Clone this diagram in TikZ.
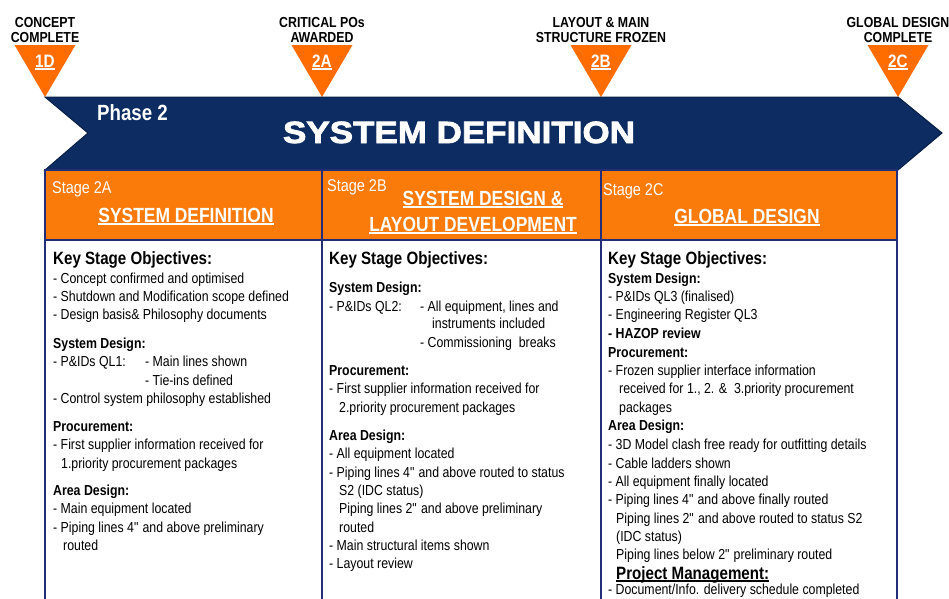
\documentclass[tikz,border=0pt]{standalone}
\usepackage{fontspec}
\setmainfont{Liberation Sans}[FakeStretch=0.85]
\newfontfamily\bannerfont{Liberation Sans}[FakeStretch=1.14,FakeBold=2.5]
\usetikzlibrary{positioning}
\definecolor{navy}{RGB}{12,44,98}
\definecolor{boxline}{RGB}{35,45,120}
\definecolor{stageorange}{RGB}{250,122,10}
\definecolor{mileorange}{RGB}{255,108,0}
\newcommand\ulinetext[1]{\setbox0\hbox{#1}\rlap{\copy0}\rule[-3pt]{\wd0}{1.6pt}}
\newcommand\tabto[2]{\makebox[#1][l]{#2}}

\begin{document}
\begin{tikzpicture}
[x=1pt,y=-1pt,
 body/.style={anchor=base west,inner sep=0pt,text=black,font={\fontsize{14.5}{18}\selectfont}},
 keyhead/.style={anchor=base west,inner sep=0pt,text=black,font={\fontsize{17.8}{20}\selectfont\bfseries}},
 mlabel/.style={anchor=base,inner sep=0pt,text=black,font={\fontsize{14.5}{16}\selectfont\bfseries}},
 mnum/.style={anchor=base,inner sep=0pt,text=white,font={\fontsize{18}{20}\selectfont\bfseries}},
 stagetag/.style={anchor=base west,inner sep=0pt,text=white,font={\fontsize{17}{20}\selectfont}},
 stagetitle/.style={anchor=base,inner sep=0pt,text=white,font={\fontsize{20.5}{24}\selectfont\bfseries}},
 headbox/.style={fill=stageorange,draw=boxline,line width=1.2pt},
 bodybox/.style={fill=white,draw=boxline,line width=1.2pt}]
\useasboundingbox (0,0) rectangle (949,598);
\clip (0,0) rectangle (949,598);

\foreach \x/\n/\a/\b in {45/1D/CONCEPT/COMPLETE,322/2A/CRITICAL POs/AWARDED,
  601/2B/LAYOUT \& MAIN/STRUCTURE FROZEN,898/2C/GLOBAL DESIGN/COMPLETE}{
  \fill[mileorange] (\x-30.5,45) -- (\x+30.5,45) -- (\x,97) -- cycle;
  \node[mlabel] (ma\n) at (\x,27) {\a};
  \node[mlabel] (mb\n) at (\x,42) {\b};
  \node[mnum] (mn\n) at (\x,67) {\ulinetext{\n}};
}

\fill[navy,draw=navy!70!black,line width=1pt] (45,97) -- (898,97) -- (942,133) -- (898,170)
  -- (45,170) -- (88,133) -- cycle;
\node[anchor=base west,inner sep=0pt,text=white,font={\fontsize{22}{24}\selectfont\bfseries}] (phase) at (97,120) {Phase 2};
\node[anchor=base,inner sep=0pt,text=white,font={\fontsize{30.7}{34}\bannerfont\bfseries}] (title) at (459,143) {SYSTEM DEFINITION};

\draw[headbox] (45,170) rectangle (322,240);
\draw[headbox] (322,170) rectangle (601,240);
\draw[headbox] (601,170) rectangle (897,240);
\draw[bodybox] (45,240) rectangle (322,620);
\draw[bodybox] (322,240) rectangle (601,620);
\draw[bodybox] (601,240) rectangle (897,620);

\node[stagetag] (tagA) at (52,193) {Stage 2A};
\node[stagetag] (tagB) at (327,191) {Stage 2B};
\node[stagetag] (tagC) at (603,195) {Stage 2C};
\node[stagetitle] (titA) at (186,222) {\ulinetext{SYSTEM DEFINITION}};
\node[stagetitle] (titB1) at (483,205) {\ulinetext{SYSTEM DESIGN \&}};
\node[stagetitle] (titB2) at (473,231) {\ulinetext{LAYOUT DEVELOPMENT}};
\node[stagetitle] (titC) at (747,223) {\ulinetext{GLOBAL DESIGN}};

\node[keyhead] (keyA) at (53,264) {Key Stage Objectives:};
\foreach \y/\t in {283/{- Concept confirmed and optimised},
  301/{- Shutdown and Modification scope defined},
  319/{- Design basis\& Philosophy documents},
  348/{\textbf{System Design:}},
  366/{\tabto{92pt}{- P\&IDs QL1:}- Main lines shown},
  385/{\hspace*{92pt}- Tie-ins defined},
  403/{- Control system philosophy established},
  431/{\textbf{Procurement:}},
  449/{- First supplier information received for},
  468/{\hspace*{8pt}1.priority procurement packages},
  495/{\textbf{Area Design:}},
  513/{- Main equipment located},
  532/{- Piping lines 4\textquotedbl\ and above preliminary},
  550/{\hspace*{10pt}routed}}
  \node[body] (a\y) at (53,\y) {\t};

\node[keyhead] (keyB) at (329,264) {Key Stage Objectives:};
\foreach \y/\t in {292/{\textbf{System Design:}},
  311/{\tabto{91pt}{- P\&IDs QL2:}- All equipment, lines and},
  328/{\hspace*{103pt}instruments included},
  347/{\hspace*{91pt}- Commissioning\ \ breaks},
  375/{\textbf{Procurement:}},
  393/{- First supplier information received for},
  412/{\hspace*{10pt}2.priority procurement packages},
  440/{\textbf{Area Design:}},
  458/{- All equipment located},
  477/{- Piping lines 4\textquotedbl\ and above routed to status},
  495/{\hspace*{10pt}S2 (IDC status)},
  513/{\hspace*{10pt}Piping lines 2\textquotedbl\ and above preliminary},
  532/{\hspace*{10pt}routed},
  550/{- Main structural items shown},
  568/{- Layout review}}
  \node[body] (b\y) at (329,\y) {\t};

\node[keyhead] (keyC) at (608,264) {Key Stage Objectives:};
\foreach \y/\t in {283/{\textbf{System Design:}},
  301/{- P\&IDs QL3 (finalised)},
  319/{- Engineering Register QL3},
  338/{\textbf{- HAZOP review}},
  357/{\textbf{Procurement:}},
  375/{- Frozen supplier interface information},
  393/{\hspace*{11pt}received for 1., 2. \&\ \ 3.priority procurement},
  412/{\hspace*{11pt}packages},
  430/{\textbf{Area Design:}},
  449/{- 3D Model clash free ready for outfitting details},
  468/{- Cable ladders shown},
  486/{- All equipment finally located},
  504/{- Piping lines 4\textquotedbl\ and above finally routed},
  523/{\hspace*{8pt}Piping lines 2\textquotedbl\ and above routed to status S2},
  541/{\hspace*{8pt}(IDC status)},
  559/{\hspace*{8pt}Piping lines below 2\textquotedbl\ preliminary routed},
  594/{- Document/Info. delivery schedule completed}}
  \node[body] (c\y) at (608,\y) {\t};
\node[keyhead] (pm) at (616,579) {\ulinetext{Project Management:}};
\end{tikzpicture}
\end{document}
